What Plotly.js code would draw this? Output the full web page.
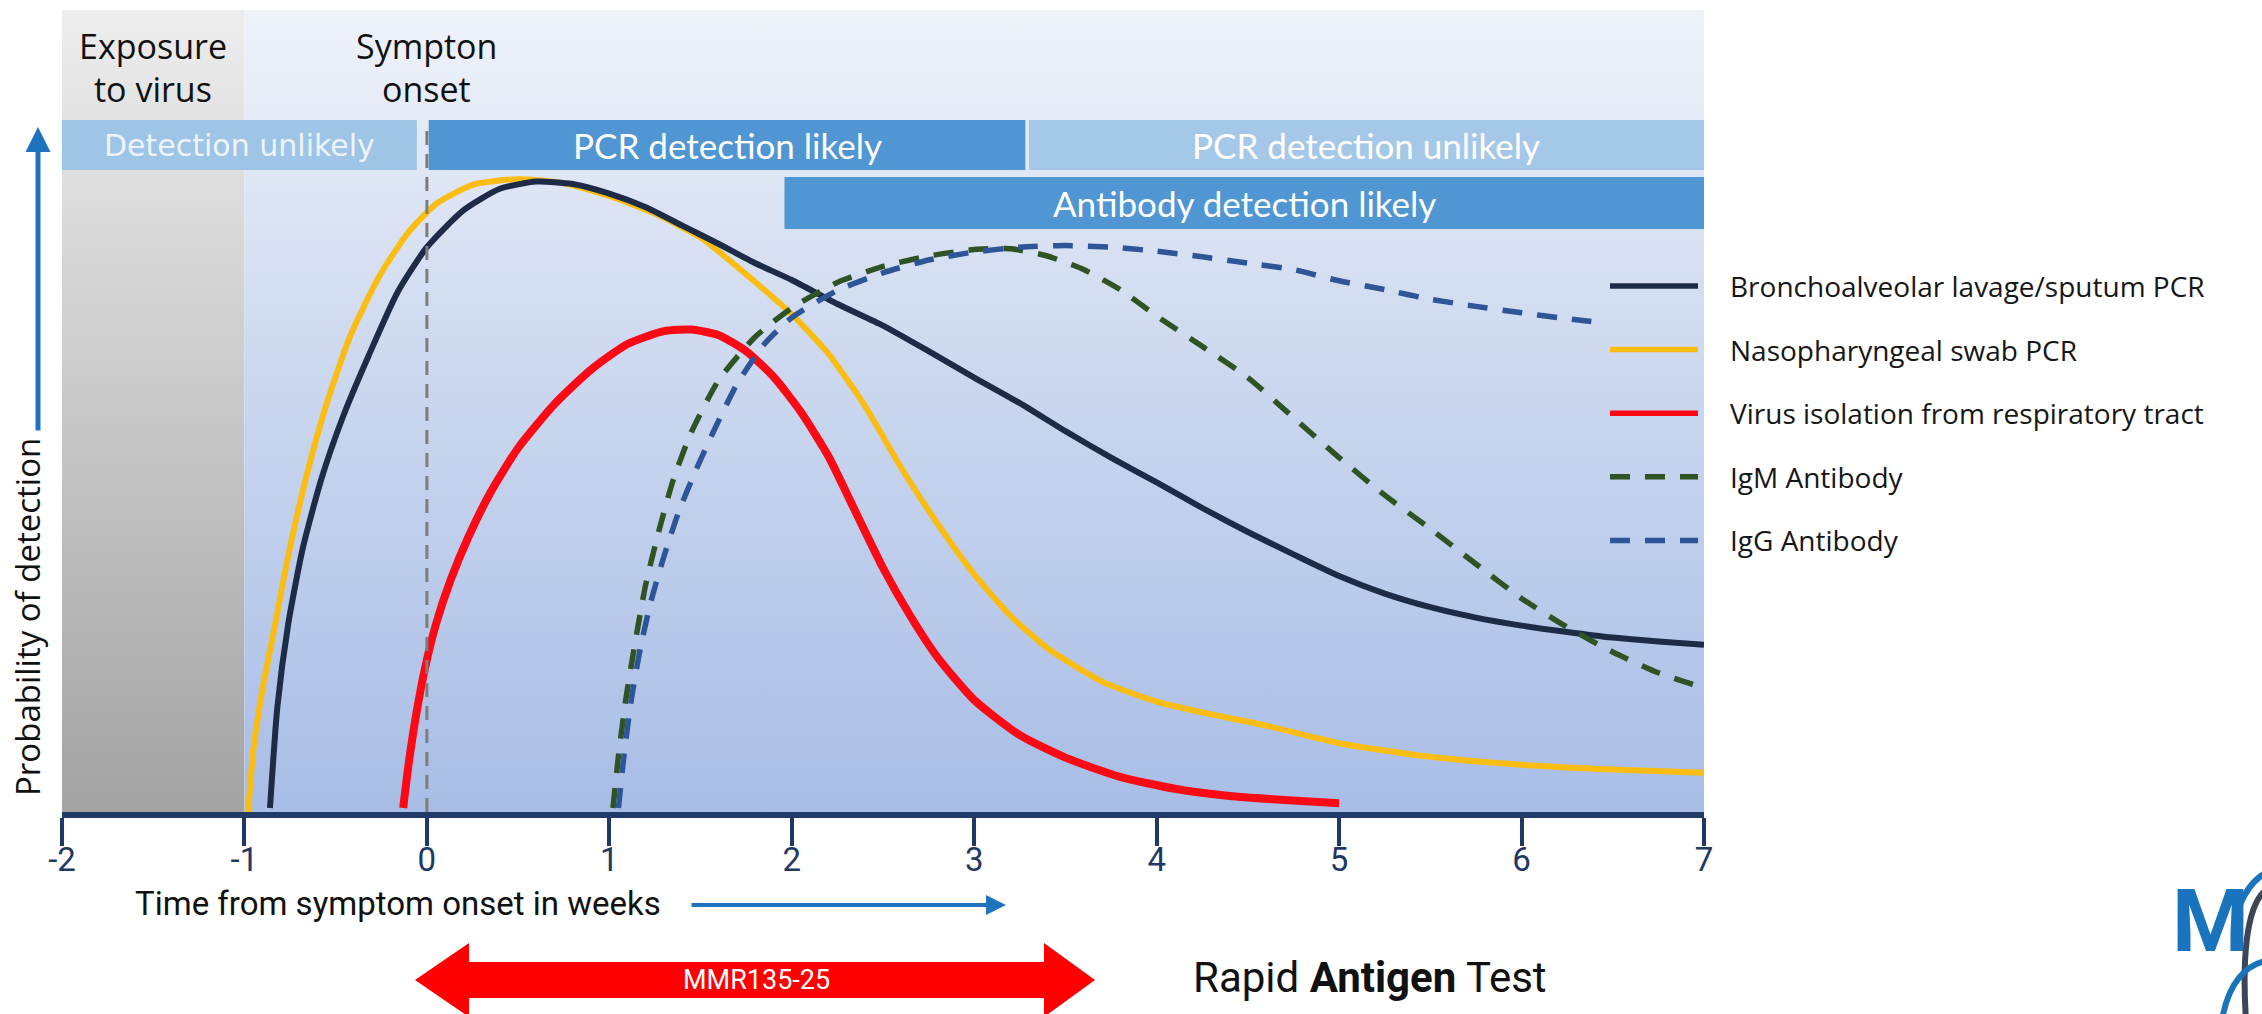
<!DOCTYPE html>
<html>
<head>
<meta charset="utf-8">
<script src="https://cdn.plot.ly/plotly-3.0.1.min.js"></script>
<style>
html,body{margin:0;padding:0;background:#ffffff;}
#chart{width:2262px;height:1014px;}
</style>
</head>
<body>
<div id="chart"></div>
<script>
// ---------------- data ----------------
const tickValues = [-2, -1, 0, 1, 2, 3, 4, 5, 6, 7];
const tickLabels = ['-2', '-1', '0', '1', '2', '3', '4', '5', '6', '7'];

const seriesNames = [
  'Bronchoalveolar lavage/sputum PCR',
  'Nasopharyngeal swab PCR',
  'Virus isolation from respiratory tract',
  'IgM Antibody',
  'IgG Antibody'
];

// Bronchoalveolar lavage / sputum PCR
const balX = [-0.86, -0.82, -0.76, -0.68, -0.58, -0.46, -0.32, -0.16, 0, 0.2, 0.4, 0.6, 0.8, 1.0, 1.2, 1.4, 1.6, 1.8, 2.0, 2.25, 2.5, 2.75, 3.0, 3.25, 3.5, 3.75, 4.0, 4.25, 4.5, 4.75, 5.0, 5.25, 5.5, 5.75, 6.0, 6.25, 6.5, 6.75, 7.0];
const balY = [0.5, 13, 23.5, 33, 41.5, 49.4, 57, 65, 70.6, 75.2, 77.9, 78.8, 78.5, 77.3, 75.6, 73.3, 71, 68.6, 66.5, 63.5, 60.8, 57.6, 54.3, 51.1, 47.6, 44.3, 41.2, 38, 35, 32.2, 29.5, 27.3, 25.6, 24.3, 23.3, 22.5, 21.8, 21.3, 20.9];

// Nasopharyngeal swab PCR
const npsX = [-0.98, -0.95, -0.90, -0.84, -0.76, -0.66, -0.55, -0.42, -0.26, -0.1, 0.05, 0.25, 0.5, 0.75, 1.0, 1.25, 1.5, 1.75, 2.0, 2.2, 2.4, 2.6, 2.8, 3.0, 3.2, 3.4, 3.7, 4.0, 4.3, 4.6, 5.0, 5.5, 6.0, 6.5, 7.0];
const npsY = [0, 8, 15.5, 22.5, 32, 42, 51, 59.5, 67, 72.5, 76, 78.4, 79.1, 78.6, 77, 74.8, 71.8, 67.2, 62.2, 57.3, 50.8, 43, 36, 29.7, 24.5, 20.5, 16.3, 13.8, 12.2, 10.8, 8.6, 6.9, 5.9, 5.3, 4.9];

// Virus isolation from respiratory tract
const virusX = [-0.13, -0.10, -0.06, -0.01, 0.05, 0.13, 0.23, 0.35, 0.5, 0.7, 0.9, 1.1, 1.3, 1.45, 1.6, 1.75, 1.9, 2.05, 2.2, 2.35, 2.5, 2.65, 2.8, 3.0, 3.25, 3.5, 3.8, 4.1, 4.4, 4.7, 5.0];
const virusY = [0.5, 6, 12, 18, 23.5, 29, 34.5, 40, 45.5, 51, 55.3, 58.5, 60.1, 60.3, 59.6, 57.6, 54.4, 50, 44.5, 37.5, 30.5, 24.5, 19.3, 14, 9.6, 6.8, 4.4, 2.9, 2.0, 1.5, 1.1];

// IgM antibody
const igmX = [1.02, 1.05, 1.09, 1.14, 1.20, 1.27, 1.35, 1.45, 1.6, 1.8, 2.0, 2.25, 2.5, 2.75, 3.0, 3.2, 3.4, 3.6, 3.8, 4.0, 4.25, 4.5, 4.75, 5.0, 5.25, 5.5, 5.75, 6.0, 6.25, 6.5, 6.75, 7.0];
const igmY = [0.5, 7, 14, 21, 28.5, 35, 41.5, 47.5, 54, 59.4, 63, 66.2, 68.2, 69.5, 70.3, 70.4, 69.5, 67.8, 65.3, 62, 58.2, 54.3, 49.3, 44.3, 39.6, 35.4, 31, 26.7, 23.1, 20, 17.4, 15.5];

// IgG antibody
const iggX = [1.05, 1.08, 1.12, 1.17, 1.23, 1.30, 1.38, 1.47, 1.58, 1.7, 1.85, 2.0, 2.25, 2.5, 2.75, 3.0, 3.25, 3.5, 3.75, 4.0, 4.25, 4.5, 4.75, 5.0, 5.25, 5.5, 5.75, 6.0, 6.2, 6.42];
const iggY = [0.5, 7, 14, 20.5, 26.5, 32, 37.5, 42.5, 48, 53.5, 58.5, 61.8, 65.2, 67.4, 69, 70, 70.6, 70.8, 70.6, 70.1, 69.4, 68.6, 67.8, 66.4, 65.3, 64.1, 63.2, 62.4, 61.8, 61.2];

// detection phases (weeks)
const phaseLabels = ['Detection unlikely', 'PCR detection likely', 'PCR detection unlikely', 'Antibody detection likely'];
const phaseStart = [-2, 0.01, 3.30, 1.96];
const phaseEnd = [-0.055, 3.28, 7, 7];

// event labels
const exposureLines = ['Exposure', 'to virus'];
const onsetLines = ['Sympton', 'onset'];
const exposureSpan = [-2, -1];
const onsetSpan = [-1, 7];
const onsetWeek = 0;

// ---------------- layout helpers ----------------
const L = 62, R = 1704, T = 10, B = 812;
const YTOP = 100.25;
const pxX = v => (v - L) / (R - L);
const pxY = v => (B - v) / (B - T);
const yv = v => (B - v) / (B - T) * YTOP;

const colors = ['#1d2b47', '#fbbd14', '#fb0a16', '#2f5322', '#2e5597'];
const widths = [6, 6, 8, 5.5, 5.5];
const dashes = ['solid', 'solid', 'solid', '20px,15px', '20px,15px'];

const traces = [];
// background panels with vertical gradients
traces.push({
  x: [exposureSpan[0], exposureSpan[1], exposureSpan[1], exposureSpan[0], exposureSpan[0]],
  y: [0, 0, YTOP, YTOP, 0],
  mode: 'none', fill: 'toself', hoverinfo: 'skip', showlegend: false,
  fillgradient: {type: 'vertical', colorscale: [[0, '#a3a3a3'], [1, '#ededed']]}
});
traces.push({
  x: [onsetSpan[0], onsetSpan[1], onsetSpan[1], onsetSpan[0], onsetSpan[0]],
  y: [0, 0, YTOP, YTOP, 0],
  mode: 'none', fill: 'toself', hoverinfo: 'skip', showlegend: false,
  fillgradient: {type: 'vertical', colorscale: [[0, '#a8bde6'], [0.55, '#ccd8ef'], [1, '#eff2f9']]}
});

const seriesX = [balX, npsX, virusX, igmX, iggX];
const seriesY = [balY, npsY, virusY, igmY, iggY];
const drawOrder = [1, 0, 2, 3, 4];
drawOrder.forEach(i => {
  traces.push({
    x: seriesX[i], y: seriesY[i], name: seriesNames[i],
    mode: 'lines', showlegend: false, hoverinfo: 'skip',
    line: {color: colors[i], width: widths[i], dash: dashes[i], shape: 'spline', smoothing: 0.6}
  });
});

// ---------------- shapes ----------------
const shapes = [];
const phaseColors = ['#9ec4e6', '#4f96d2', '#a6c8e8', '#4f96d2'];
const rowTop = [yv(120), yv(177)];
const rowBot = [yv(170), yv(229)];
const phaseRow = [0, 0, 0, 1];
phaseLabels.forEach((lab, i) => {
  shapes.push({type: 'rect', xref: 'x', yref: 'y', x0: phaseStart[i], x1: phaseEnd[i],
    y0: rowBot[phaseRow[i]], y1: rowTop[phaseRow[i]], fillcolor: phaseColors[i], line: {width: 0}, layer: 'above'});
});
// symptom onset dashed line
shapes.push({type: 'line', xref: 'x', yref: 'y', x0: onsetWeek, x1: onsetWeek, y0: 0, y1: yv(122),
  line: {color: '#7d7d7d', width: 3, dash: '14px,9px'}, layer: 'above'});

// legend samples
const legY0 = 286, legStep = 63.6;
seriesNames.forEach((n, i) => {
  shapes.push({type: 'line', xref: 'paper', yref: 'paper', x0: pxX(1610), x1: pxX(1698),
    y0: pxY(legY0 + legStep * i), y1: pxY(legY0 + legStep * i),
    line: {color: colors[i], width: 5.5, dash: dashes[i]}});
});

// red double arrow
function P(x, y) { return pxX(x).toFixed(5) + ',' + pxY(y).toFixed(5); }
const arrowPath = 'M' + P(415, 980) + ' L' + P(469, 943) + ' L' + P(469, 962) + ' L' + P(1044, 962) +
  ' L' + P(1044, 943) + ' L' + P(1095, 980) + ' L' + P(1044, 1017) + ' L' + P(1044, 998) +
  ' L' + P(469, 998) + ' L' + P(469, 1017) + ' Z';
shapes.push({type: 'path', xref: 'paper', yref: 'paper', path: arrowPath, fillcolor: '#fe0000', line: {width: 0}});

// logo curves
function C(pts) { return pts.map((p, k) => (k === 0 ? 'M' : (k % 3 === 1 ? ' C' : ' ')) + P(p[0], p[1])).join(''); }
shapes.push({type: 'path', xref: 'paper', yref: 'paper', line: {color: '#3b4656', width: 6},
  path: C([[2246, 1020], [2242, 960], [2246, 905], [2266, 890]])});
shapes.push({type: 'path', xref: 'paper', yref: 'paper', line: {color: '#1a74bd', width: 6},
  path: C([[2222, 1020], [2228, 985], [2245, 962], [2272, 960]])});
shapes.push({type: 'path', xref: 'paper', yref: 'paper', line: {color: '#1a74bd', width: 6},
  path: C([[2240, 905], [2246, 890], [2256, 876], [2272, 870]])});

// ---------------- annotations ----------------
const ann = [];
const txt = (text, x, y, size, family, color, opts) => Object.assign({
  text: text, xref: 'paper', yref: 'paper', x: pxX(x), y: pxY(y), showarrow: false,
  xanchor: 'center', yanchor: 'middle', font: {family: family, size: size, color: color}
}, opts || {});

const exCenter = (exposureSpan[0] + exposureSpan[1]) / 2;
const evFont = {family: 'Open Sans', size: 34, color: '#111'};
ann.push({text: exposureLines[0], xref: 'x', yref: 'paper', x: exCenter, y: pxY(46), showarrow: false, yanchor: 'middle', font: evFont});
ann.push({text: exposureLines[1], xref: 'x', yref: 'paper', x: exCenter, y: pxY(89), showarrow: false, yanchor: 'middle', font: evFont});
ann.push({text: onsetLines[0], xref: 'x', yref: 'paper', x: onsetWeek, y: pxY(46), showarrow: false, yanchor: 'middle', font: evFont});
ann.push({text: onsetLines[1], xref: 'x', yref: 'paper', x: onsetWeek, y: pxY(89), showarrow: false, yanchor: 'middle', font: evFont});

// phase labels
phaseLabels.forEach((lab, i) => {
  const r = phaseRow[i];
  ann.push({text: lab, xref: 'x', yref: 'y', x: (phaseStart[i] + phaseEnd[i]) / 2, y: (rowTop[r] + rowBot[r]) / 2,
    showarrow: false, yanchor: 'middle',
    font: {family: i === 0 ? 'DejaVu Sans' : 'Lato', size: i === 0 ? 30 : 35, color: i === 0 ? '#eef3fa' : '#ffffff'}});
});

// legend texts
seriesNames.forEach((n, i) => {
  ann.push(txt(n, 1728, legY0 + legStep * i, 28, 'Open Sans', '#161616', {xanchor: 'left'}));
});

// axis titles
ann.push(txt('Probability of detection', 27, 617, 33, 'Open Sans', '#111', {textangle: -90}));
ann.push({text: '', xref: 'paper', yref: 'paper', x: pxX(38), y: pxY(127), ax: 0, ay: 305,
  showarrow: true, arrowhead: 2, arrowsize: 1, arrowwidth: 5, arrowcolor: '#1f73be'});
ann.push(txt('Time from symptom onset in weeks', 133, 903, 33, 'Roboto', '#111', {xanchor: 'left'}));
ann.push({text: '', xref: 'paper', yref: 'paper', x: pxX(1006), y: pxY(905), ax: -316, ay: 0,
  showarrow: true, arrowhead: 2, arrowsize: 1, arrowwidth: 4, arrowcolor: '#1f73be'});

// bottom texts
ann.push(txt('MMR135-25', 756, 980, 27, 'Roboto', '#ffffff'));
ann.push(txt('Rapid <b>Antigen</b> Test', 1191, 978, 42, 'Roboto', '#111', {xanchor: 'left'}));
ann.push(txt('<b>M</b>', 2210, 920, 88, 'Roboto', '#1a74bd'));

const layout = {
  width: 2262, height: 1014,
  margin: {l: L, r: 2262 - R, t: T, b: 1014 - B, pad: 0},
  paper_bgcolor: '#ffffff', plot_bgcolor: 'rgba(0,0,0,0)',
  showlegend: false,
  xaxis: {
    range: [-2, 7], tickmode: 'array', tickvals: tickValues, ticktext: tickLabels,
    ticks: 'outside', ticklen: 28, tickwidth: 4, tickcolor: '#1f3864',
    ticklabelstandoff: -15,
    showline: true, linewidth: 6, linecolor: '#1f3b66', showgrid: false, zeroline: false,
    tickfont: {family: 'Roboto', size: 33, color: '#1f3864'}, fixedrange: true
  },
  yaxis: {range: [0, YTOP], visible: false, showgrid: false, zeroline: false, fixedrange: true},
  shapes: shapes,
  annotations: ann
};

Plotly.newPlot('chart', traces, layout, {displayModeBar: false, staticPlot: true});
</script>
</body>
</html>
